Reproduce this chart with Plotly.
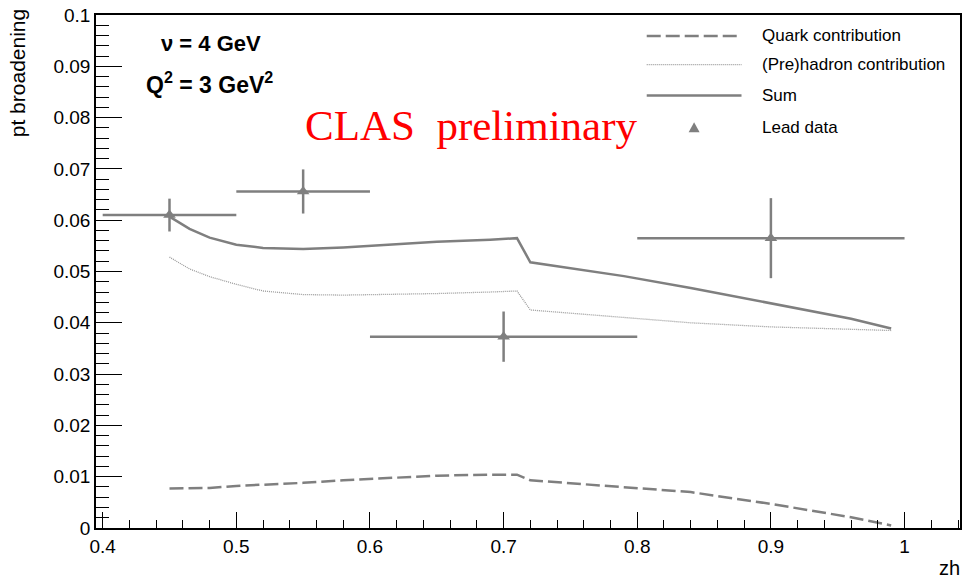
import plotly.graph_objects as go

# ---- data ----
zh_model = [0.45, 0.465, 0.48, 0.50, 0.52, 0.55, 0.58, 0.61, 0.65, 0.69, 0.71, 0.72, 0.79, 0.84, 0.90, 0.96, 0.99]
quark = [0.0077, 0.0077, 0.0078, 0.0082, 0.0084, 0.0088, 0.0093, 0.0097, 0.0102, 0.0104, 0.0104, 0.0093, 0.0080, 0.0070, 0.0047, 0.0021, 0.0005]
prehadron = [0.0528, 0.0505, 0.0490, 0.0475, 0.0462, 0.0455, 0.0454, 0.0455, 0.0457, 0.0460, 0.0462, 0.0425, 0.0410, 0.0400, 0.0392, 0.0387, 0.0385]
sum_curve = [0.0607, 0.0583, 0.0566, 0.0552, 0.0546, 0.0544, 0.0547, 0.0552, 0.0558, 0.0562, 0.0565, 0.0518, 0.0491, 0.0468, 0.0438, 0.0408, 0.0389]

zh_data = [0.45, 0.55, 0.70, 0.90]
zh_err = [0.05, 0.05, 0.10, 0.10]
pt_data = [0.0610, 0.0656, 0.0373, 0.0565]
pt_err = [0.0032, 0.0043, 0.0049, 0.0078]

legend_labels = ["Quark contribution", "(Pre)hadron contribution", "Sum", "Lead data"]

GRAY = "#7f7f7f"
W, H = 967, 578
L, R, T, B = 96, 962, 12, 528

def px(x):
    return (x - L) / (R - L)

def py(y):
    return (B - y) / (B - T)

fig = go.Figure()
fig.add_trace(go.Scatter(x=zh_model, y=quark, mode="lines", name=legend_labels[0],
                         line=dict(color=GRAY, width=2.5, dash="14px,5px"), showlegend=False))
fig.add_trace(go.Scatter(x=zh_model, y=prehadron, mode="lines", name=legend_labels[1],
                         line=dict(color="#9a9a9a", width=1.3, dash="1px,1px"), showlegend=False))
fig.add_trace(go.Scatter(x=zh_model, y=sum_curve, mode="lines", name=legend_labels[2],
                         line=dict(color=GRAY, width=2.5), showlegend=False))
fig.add_trace(go.Scatter(x=zh_data, y=pt_data, mode="markers", name=legend_labels[3],
                         marker=dict(symbol="triangle-up", size=11, color=GRAY),
                         error_x=dict(type="data", array=zh_err, color=GRAY, thickness=2.5, width=0),
                         error_y=dict(type="data", array=pt_err, color=GRAY, thickness=2.5, width=0),
                         showlegend=False))

shapes = []
annotations = []
# manual legend
leg_y = [33, 62, 93, 125]
styles = [dict(color=GRAY, width=2.5, dash="14px,5px"),
          dict(color="#9a9a9a", width=1.3, dash="1px,1px"),
          dict(color=GRAY, width=2.5)]
for i in range(3):
    shapes.append(dict(type="line", xref="paper", yref="paper",
                       x0=px(648), x1=px(743), y0=py(leg_y[i]), y1=py(leg_y[i]), line=styles[i]))
tx, ty = 695.5, 125
shapes.append(dict(type="path", xref="paper", yref="paper",
                   path=f"M{px(tx-5.5)},{py(ty+5)} L{px(tx+5.5)},{py(ty+5)} L{px(tx)},{py(ty-5)} Z",
                   fillcolor=GRAY, line=dict(width=0)))
for i, lab in enumerate(legend_labels):
    annotations.append(dict(text=lab, xref="paper", yref="paper", x=px(762), y=py(leg_y[i]),
                            xanchor="left", yanchor="middle", showarrow=False,
                            font=dict(family="Liberation Sans, Arial", size=17, color="black")))

annotations += [
    dict(text="<b>ν = 4 GeV</b>", xref="paper", yref="paper", x=px(211), y=py(41),
         xanchor="center", yanchor="middle", showarrow=False,
         font=dict(family="Liberation Sans, Arial", size=22, color="black")),
    dict(text="<b>Q<sup>2</sup> = 3 GeV<sup>2</sup></b>", xref="paper", yref="paper", x=px(210), y=py(80),
         xanchor="center", yanchor="middle", showarrow=False,
         font=dict(family="Liberation Sans, Arial", size=23, color="black")),
    dict(text="CLAS  preliminary", xref="paper", yref="paper", x=px(472), y=py(123),
         xanchor="center", yanchor="middle", showarrow=False,
         font=dict(family="Liberation Serif, Times New Roman", size=43, color="red")),
    dict(text="pt broadening", xref="paper", yref="paper", x=px(17), y=py(4),
         xanchor="center", yanchor="top", textangle=-90, showarrow=False,
         font=dict(family="Liberation Sans, Arial", size=21, color="black")),
    dict(text="zh", xref="paper", yref="paper", x=px(964), y=py(568),
         xanchor="right", yanchor="middle", showarrow=False,
         font=dict(family="Liberation Sans, Arial", size=20, color="black")),
]

fig.update_layout(
    width=W, height=H,
    margin=dict(l=L, r=W - R, t=T, b=H - B),
    paper_bgcolor="white", plot_bgcolor="white",
    shapes=shapes, annotations=annotations, showlegend=False,
    xaxis=dict(range=[0.395, 1.0415], tickvals=[0.4, 0.5, 0.6, 0.7, 0.8, 0.9, 1.0],
               ticktext=["0.4", "0.5", "0.6", "0.7", "0.8", "0.9", "1"],
               ticks="inside", ticklen=16, tickwidth=1, tickcolor="black",
               showgrid=False, zeroline=False, showline=True, linecolor="black", linewidth=1.5, mirror=True,
               minor=dict(dtick=0.02, tick0=0.4, ticks="inside", ticklen=8, tickcolor="black", showgrid=False),
               tickfont=dict(family="Liberation Sans, Arial", size=19, color="black")),
    yaxis=dict(range=[0, 0.1], tickvals=[0, 0.01, 0.02, 0.03, 0.04, 0.05, 0.06, 0.07, 0.08, 0.09, 0.1],
               ticktext=["0", "0.01", "0.02", "0.03", "0.04", "0.05", "0.06", "0.07", "0.08", "0.09", "0.1"],
               ticks="inside", ticklen=26, tickwidth=1, tickcolor="black",
               showgrid=False, zeroline=False, showline=True, linecolor="black", linewidth=1.5, mirror=True,
               minor=dict(dtick=0.002, tick0=0, ticks="inside", ticklen=13, tickcolor="black", showgrid=False),
               tickfont=dict(family="Liberation Sans, Arial", size=19, color="black")),
)

fig.write_html("out.html")
